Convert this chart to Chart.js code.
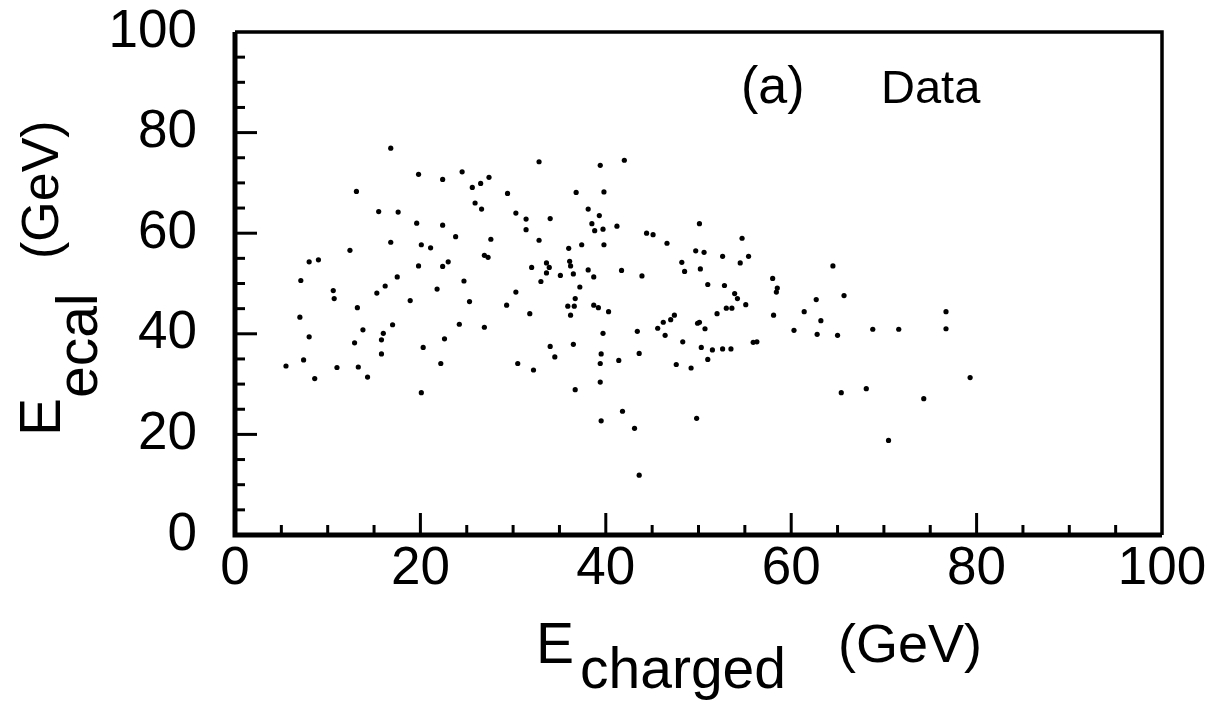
<!DOCTYPE html>
<html>
<head>
<meta charset="utf-8">
<script src="https://cdn.jsdelivr.net/npm/chart.js@4.4.1/dist/chart.umd.min.js"></script>
<style>
  html, body { margin: 0; padding: 0; background: #fff; }
  #wrap { width: 1221px; height: 703px; }
</style>
</head>
<body>
<div id="wrap"><canvas id="scatterChart" width="1221" height="703"></canvas></div>
<script>
// E_charged (GeV) of each event
var eCharged = [
  16.8, 32.8, 39.4, 42.0, 19.8, 22.4, 24.5, 25.6, 26.5, 27.4,
  13.1, 29.4, 36.8, 39.8, 25.9, 26.6, 15.5, 17.6, 30.3, 31.4,
  34.0, 38.1, 39.3, 19.6, 22.4, 31.4, 38.5, 38.8, 39.7, 41.2,
  23.8, 27.6, 32.8, 16.8, 44.4, 45.1, 46.6, 50.1, 54.7, 20.1,
  21.1, 37.4, 36.0, 39.8, 12.4, 26.9, 27.3, 8.0, 9.0, 19.8,
  22.4, 23.0, 32.0, 33.6, 33.9, 36.1, 36.2, 33.6, 35.1, 36.5,
  38.1, 38.7, 41.7, 43.9, 49.7, 50.6, 52.6, 55.4, 54.5, 48.2,
  48.5, 50.2, 64.5, 7.1, 17.5, 24.7, 33.0, 37.2, 51.0, 52.8,
  58.0, 58.5, 58.4, 65.7, 10.6, 10.7, 16.2, 15.3, 21.8, 30.3,
  53.9, 54.2, 36.7, 18.9, 25.3, 62.7, 29.3, 35.9, 36.6, 38.7,
  39.2, 55.1, 53.0, 53.6, 13.2, 31.8, 36.2, 40.3, 52.0, 58.1,
  61.4, 7.0, 47.4, 47.0, 46.2, 45.6, 50.1, 49.9, 50.7, 63.2,
  76.7, 76.7, 68.8, 71.6, 60.3, 62.8, 65.0, 43.4, 46.4, 39.7,
  17.0, 24.2, 26.9, 13.8, 16.0, 8.0, 15.8, 22.6, 12.9, 48.3,
  55.9, 56.3, 36.5, 34.0, 20.3, 50.3, 51.5, 52.6, 53.5, 43.6,
  39.5, 15.8, 34.5, 7.4, 41.4, 39.4, 22.2, 30.5, 51.0, 47.6,
  5.5, 11.0, 13.3, 49.2, 32.2, 8.6, 14.3, 39.4, 79.3, 36.7,
  20.1, 65.4, 68.1, 74.3, 41.8, 39.5, 49.8, 43.1, 70.5, 43.6
];
// E_ecal (GeV) of each event
var eEcal = [
  76.9, 74.2, 73.5, 74.5, 71.7, 70.7, 72.2, 69.1, 69.9, 71.1,
  68.3, 67.9, 68.1, 68.2, 66.0, 64.8, 64.3, 64.2, 64.0, 62.8,
  62.9, 64.8, 63.5, 62.0, 61.6, 60.7, 61.9, 60.5, 60.8, 61.4,
  59.3, 58.8, 58.6, 58.2, 60.0, 59.7, 58.0, 61.9, 59.0, 57.7,
  57.1, 57.7, 57.0, 57.7, 56.6, 55.6, 55.2, 54.3, 54.7, 53.5,
  53.4, 54.3, 53.2, 54.1, 53.2, 54.4, 53.5, 52.1, 51.6, 51.9,
  52.7, 51.3, 52.6, 51.5, 56.5, 56.2, 55.4, 55.4, 54.1, 54.2,
  52.4, 52.9, 53.5, 50.6, 51.3, 50.5, 50.4, 49.3, 49.8, 49.6,
  51.0, 49.1, 48.3, 47.6, 48.6, 47.0, 49.5, 48.1, 48.9, 48.3,
  48.0, 47.0, 47.0, 46.6, 46.4, 46.8, 45.7, 45.5, 45.5, 45.7,
  45.2, 45.8, 45.1, 45.1, 45.2, 44.0, 43.7, 44.4, 44.0, 43.7,
  44.4, 43.3, 43.7, 42.8, 42.3, 41.1, 42.3, 42.1, 41.0, 42.6,
  44.4, 41.0, 40.9, 40.9, 40.7, 39.9, 39.7, 40.5, 39.7, 40.1,
  41.8, 41.9, 41.3, 40.8, 40.1, 39.4, 38.8, 39.0, 38.2, 38.4,
  38.3, 38.4, 37.9, 37.5, 37.3, 37.3, 36.8, 37.0, 37.0, 36.1,
  36.0, 36.0, 35.4, 34.8, 34.7, 34.1, 34.1, 34.1, 34.9, 33.9,
  33.6, 33.3, 33.4, 33.2, 32.8, 31.1, 31.4, 30.4, 31.3, 28.9,
  28.3, 28.3, 29.1, 27.1, 24.6, 22.7, 23.2, 21.2, 18.8, 11.9
];
var tickValues = [0, 20, 40, 60, 80, 100];
var minorStep = 5;

var points = eCharged.map(function(x, i) {
    return { x: x, y: eEcal[i] };
});

var tickFont = { family: 'Liberation Sans', size: 53, lineHeight: 1 };

// frame, inward ticks and axis titles with subscripts
var framePlugin = {
    id: 'frame',
    afterDraw: function(chart) {
        var ctx = chart.ctx;
        var a = chart.chartArea;
        var xs = chart.scales.x, ys = chart.scales.y;
        ctx.save();
        ctx.strokeStyle = '#000';
        ctx.lineCap = 'butt';

        // ticks
        ctx.lineWidth = 3;
        for (var v = minorStep; v < 100; v += minorStep) {
            var major = tickValues.indexOf(v) >= 0;
            var px = xs.getPixelForValue(v);
            var py = ys.getPixelForValue(v);
            ctx.beginPath();
            ctx.moveTo(px, a.bottom);
            ctx.lineTo(px, a.bottom - (major ? 22 : 10));
            ctx.stroke();
            ctx.beginPath();
            ctx.moveTo(a.left, py);
            ctx.lineTo(a.left + (major ? 22 : 10), py);
            ctx.stroke();
        }

        // frame
        ctx.lineWidth = 3.5;
        ctx.beginPath();
        ctx.moveTo(a.left, a.top);
        ctx.lineTo(a.right, a.top);
        ctx.lineTo(a.right, a.bottom);
        ctx.stroke();
        ctx.lineWidth = 5;
        ctx.beginPath();
        ctx.moveTo(a.right, a.bottom);
        ctx.lineTo(a.left, a.bottom);
        ctx.lineTo(a.left, a.top);
        ctx.stroke();

        ctx.fillStyle = '#000';
        ctx.textBaseline = 'alphabetic';
        ctx.textAlign = 'left';

        // panel label
        ctx.font = '52px "Liberation Sans"';
        ctx.fillText('(a)', 741, 103);
        ctx.font = '47px "Liberation Sans"';
        ctx.fillText('Data', 881, 103);

        // x title
        ctx.font = '57px "Liberation Sans"';
        ctx.fillText('E', 536, 663);
        ctx.fillText('charged', 580, 688);
        ctx.font = '54px "Liberation Sans"';
        ctx.fillText('(GeV)', 838, 662);

        // y title
        ctx.save();
        ctx.translate(60, 436);
        ctx.rotate(-Math.PI / 2);
        ctx.font = '57px "Liberation Sans"';
        ctx.fillText('E', 0, 0);
        var w = ctx.measureText('E').width;
        ctx.fillText('ecal', w, 37);
        ctx.restore();

        ctx.save();
        ctx.translate(58, 259);
        ctx.rotate(-Math.PI / 2);
        ctx.font = '52px "Liberation Sans"';
        ctx.fillText('(GeV)', 0, 0);
        ctx.restore();

        ctx.restore();
    }
};

var ctx = document.getElementById('scatterChart').getContext('2d');
var chart = new Chart(ctx, {
    type: 'scatter',
    data: {
        datasets: [{
            label: 'Data',
            data: points,
            backgroundColor: '#000',
            borderWidth: 0,
            pointRadius: 2.6,
            pointHoverRadius: 2.6
        }]
    },
    options: {
        responsive: false,
        animation: false,
        layout: { padding: { left: 0, right: 59, top: 32, bottom: 0 } },
        plugins: {
            legend: { display: false },
            tooltip: { enabled: false }
        },
        scales: {
            x: {
                type: 'linear',
                min: 0,
                max: 100,
                afterFit: function(scale) {
                    scale.height = 168;
                    scale.paddingLeft = 0;
                    scale.paddingRight = 0;
                },
                afterBuildTicks: function(scale) {
                    scale.ticks = tickValues.map(function(v) { return { value: v }; });
                },
                grid: { display: false, drawTicks: false },
                border: { display: false },
                ticks: { color: '#000', font: tickFont, padding: 8, maxRotation: 0 }
            },
            y: {
                type: 'linear',
                min: 0,
                max: 100,
                afterFit: function(scale) {
                    scale.width = 235;
                    scale.paddingTop = 0;
                    scale.paddingBottom = 0;
                },
                afterBuildTicks: function(scale) {
                    scale.ticks = tickValues.map(function(v) { return { value: v }; });
                },
                grid: { display: false, drawTicks: false },
                border: { display: false },
                ticks: { color: '#000', font: tickFont, padding: 38 }
            }
        }
    },
    plugins: [framePlugin]
});
</script>
</body>
</html>
